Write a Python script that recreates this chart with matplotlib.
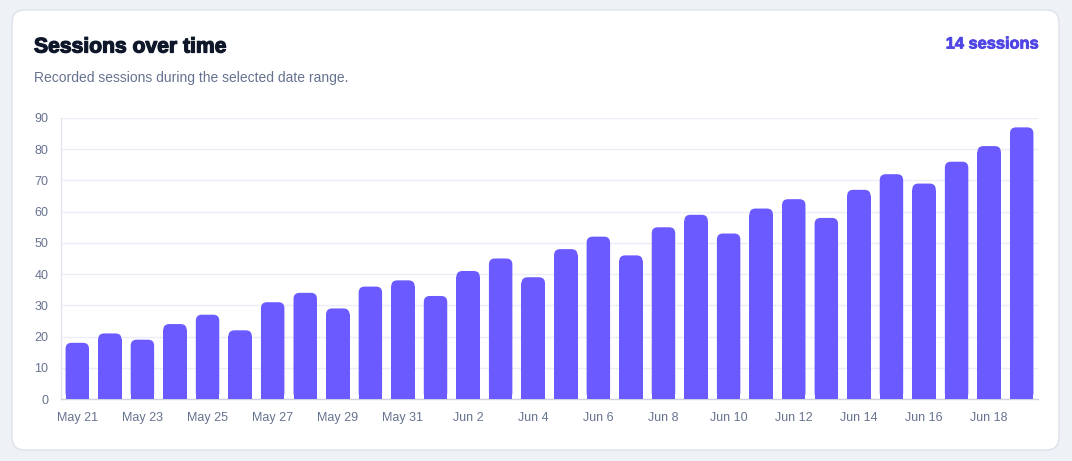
import matplotlib
matplotlib.use("Agg")
import matplotlib.pyplot as plt
import matplotlib.patheffects as pe
from matplotlib.patches import FancyBboxPatch
import numpy as np

dates = ["May 21", "May 22", "May 23", "May 24", "May 25", "May 26", "May 27", "May 28",
         "May 29", "May 30", "May 31", "Jun 1", "Jun 2", "Jun 3", "Jun 4", "Jun 5",
         "Jun 6", "Jun 7", "Jun 8", "Jun 9", "Jun 10", "Jun 11", "Jun 12", "Jun 13",
         "Jun 14", "Jun 15", "Jun 16", "Jun 17", "Jun 18", "Jun 19"]
sessions = [18, 21, 19, 24, 27, 22, 31, 34, 29, 36, 38, 33, 41, 45, 39, 48,
            52, 46, 55, 59, 53, 61, 64, 58, 67, 72, 69, 76, 81, 87]
y_ticks = [0, 10, 20, 30, 40, 50, 60, 70, 80, 90]
title = "Sessions over time"
subtitle = "Recorded sessions during the selected date range."
badge = "14 sessions"

plt.rcParams['font.family'] = ['Liberation Sans', 'DejaVu Sans']

W, H = 1072, 461
fig = plt.figure(figsize=(W / 100, H / 100), dpi=100)
fig.patch.set_facecolor("#eef1f6")

# card
card = FancyBboxPatch((12 / W, (H - 450) / H), (1059 - 12) / W, (450 - 10) / H,
                      boxstyle="round,pad=0,rounding_size=0.012",
                      mutation_aspect=W / H,
                      transform=fig.transFigure, facecolor="white",
                      edgecolor="#dde2ea", linewidth=1.0, zorder=-10)
fig.patches.append(card)

fig.text(34 / W, 1 - 47 / H, title, fontsize=15.2, fontweight="bold",
         color="#0f172a", ha="left", va="center",
         path_effects=[pe.withStroke(linewidth=0.9, foreground="#0f172a")])
fig.text(34 / W, 1 - 78 / H, subtitle, fontsize=10, color="#66728f",
         ha="left", va="center")
fig.text(1038 / W, 1 - 44 / H, badge, fontsize=11.8, fontweight="bold",
         color="#4f46e5", ha="right", va="center",
         path_effects=[pe.withStroke(linewidth=0.6, foreground="#4f46e5")])

ax = fig.add_axes([61 / W, (H - 399) / H, (1038 - 61) / W, (399 - 118) / H])
ax.set_facecolor("none")
ax.set_zorder(5)

x = np.arange(len(sessions))
vals = np.array(sessions, dtype=float)
ax.set_xlim(-0.5, len(sessions) - 0.5)
ax.set_ylim(0, 90)

bw = 0.72
bar_color = "#6a5aff"
# rounded radius in pixels -> data units
px_x = (1038 - 61) / len(sessions)
px_y = (399 - 118) / 90
r_px = 6.0
rx = r_px / px_x
ry = r_px / px_y

ax.bar(x, vals - ry, width=bw, color=bar_color, edgecolor="none", zorder=3)
for xi, v in zip(x, vals):
    p = FancyBboxPatch((xi - bw / 2, 0), bw, v,
                       boxstyle=f"round,pad=0,rounding_size={rx}",
                       mutation_aspect=ry / rx,
                       facecolor=bar_color, edgecolor="none", zorder=3)
    ax.add_patch(p)

ax.set_yticks(y_ticks)
ax.set_xticks(x[::2])
ax.set_xticklabels(dates[::2])
ax.grid(axis="y", color="#eceef5", linewidth=1.0, zorder=0)
ax.set_axisbelow(True)
ax.tick_params(axis="both", length=0, labelsize=9, labelcolor="#66728f")
ax.tick_params(axis="y", pad=9)
ax.tick_params(axis="x", pad=9)
for s in ["top", "right"]:
    ax.spines[s].set_visible(False)
ax.spines["left"].set_color("#e3e6ee")
ax.spines["bottom"].set_color("#cfd3dc")
ax.spines["left"].set_linewidth(1.0)
ax.spines["bottom"].set_linewidth(1.0)

fig.savefig("out.png", dpi=100, facecolor=fig.get_facecolor())
